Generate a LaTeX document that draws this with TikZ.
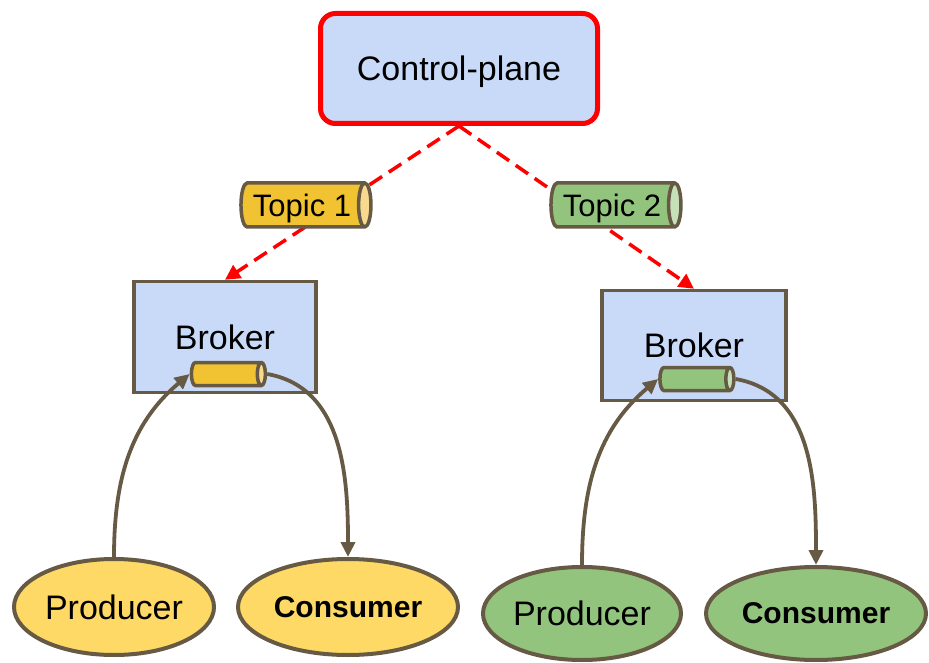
\documentclass[tikz,border=0pt]{standalone}
\usepackage{fontspec}
\setmainfont{Liberation Sans}
\usetikzlibrary{shapes.geometric,arrows.meta}

\definecolor{paleblue}{HTML}{C9DAF8}
\definecolor{frame}{HTML}{665A45}
\definecolor{gold}{HTML}{F1C232}
\definecolor{goldend}{HTML}{F7DA8E}
\definecolor{butter}{HTML}{FFD966}
\definecolor{sage}{HTML}{93C47D}
\definecolor{sageend}{HTML}{C6E0BA}
\definecolor{signal}{HTML}{FF0000}

\begin{document}
\begin{tikzpicture}[x=1pt,y=-1pt,
  bigtext/.style={font=\fontsize{34}{40}\selectfont},
  plane/.style={draw=signal, line width=5pt, fill=paleblue, rounded corners=15pt,
    minimum width=277pt, minimum height=110pt, inner sep=0pt, text depth=0pt, bigtext},
  broker/.style={draw=frame, line width=3.5pt, fill=paleblue, inner sep=0pt, bigtext},
  tube/.style={cylinder, draw=frame, line width=3.5pt, inner sep=0pt,
    cylinder uses custom fill, text depth=0pt},
  topictube/.style={tube, aspect=0.55, minimum height=130pt, minimum width=44pt,
    font=\fontsize{31}{36}\selectfont},
  minitube/.style={tube, aspect=0.45, minimum height=74pt, minimum width=23pt},
  yellowtube/.style={cylinder body fill=gold, cylinder end fill=goldend},
  greentube/.style={cylinder body fill=sage, cylinder end fill=sageend},
  client/.style={ellipse, draw=frame, line width=4pt, inner sep=0pt},
  signalline/.style={draw=signal, line width=3.5pt, dash pattern=on 15pt off 8pt,
    -{Triangle[length=15pt,width=15pt]}},
  flow/.style={draw=frame, line width=3.8pt, -{Triangle[length=15pt,width=14pt]}}
]
\useasboundingbox (0,0) rectangle (929,663);

% controller and the two brokers
\node[plane] (cp) at (459,68.5) {Control-plane};
\node[broker, minimum width=182pt, minimum height=111pt] (b1) at (225,337) {\raisebox{-2pt}{Broker}};
\node[broker, minimum width=184pt, minimum height=110pt] (b2) at (694,345.5) {\raisebox{-1pt}{Broker}};

% control messages, drawn under the topic tubes
\draw[signalline] (cp.south) -- (b1.north);
\draw[signalline] (cp.south) -- (b2.north);

% topics
\node[topictube, yellowtube] (t1) at (302,205) {Topic 1};
\node[topictube, greentube] (t2) at (612,205) {Topic 2};

% partitions held by each broker (the strut sets the end-cap size)
\node[minitube, yellowtube] (k1) at (225.5,374) {\rule{0pt}{18pt}};
\node[minitube, greentube] (k2) at (694,379) {\rule{0pt}{18pt}};

% clients
\node[client, fill=butter, minimum width=200pt, minimum height=96pt, bigtext] (p1) at (114,607) {Producer};
\node[client, fill=butter, minimum width=220pt, minimum height=96pt,
  font=\fontsize{30}{36}\selectfont\bfseries] (c1) at (348,607) {Consumer};
\node[client, fill=sage, minimum width=198pt, minimum height=93pt, bigtext] (p2) at (582,613.5) {Producer};
\node[client, fill=sage, minimum width=220pt, minimum height=93pt,
  font=\fontsize{30}{36}\selectfont\bfseries] (c2) at (816,613.5) {Consumer};

% data flow
\draw[flow] (p1.north) to[out=90, in=220] (k1.west);
\draw[flow] (k1.east) to[out=-10, in=90] (c1.north);
\draw[flow] (p2.north) to[out=90, in=220] (k2.west);
\draw[flow] (k2.east) to[out=-10, in=90] (c2.north);
\end{tikzpicture}
\end{document}
